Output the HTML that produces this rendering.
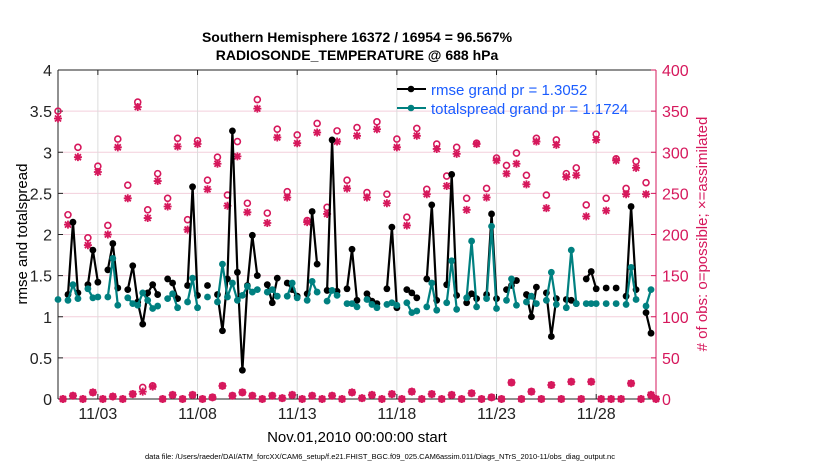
<!DOCTYPE html>
<html><head><meta charset="utf-8">
<style>
body{margin:0;background:#fff;}
svg{display:block;font-family:"Liberation Sans",Arial,sans-serif;}
</style></head>
<body>
<svg id="chart" width="830" height="470" viewBox="0 0 830 470" xmlns="http://www.w3.org/2000/svg">
<g id="grid"></g>
<g id="axes"></g>
<g id="obs"></g>
<g id="lines"></g>
<text x="357" y="42" text-anchor="middle" font-size="14" font-weight="bold">Southern Hemisphere 16372 / 16954 = 96.567%</text>
<text x="357" y="60" text-anchor="middle" font-size="14" font-weight="bold">RADIOSONDE_TEMPERATURE @ 688 hPa</text>
<text transform="translate(27,234) rotate(-90)" text-anchor="middle" font-size="15">rmse and totalspread</text>
<text transform="translate(707,234) rotate(-90)" text-anchor="middle" font-size="15" fill="#d6185c"># of obs: o=possible; ×=assimilated</text>
<text x="357" y="442" text-anchor="middle" font-size="15">Nov.01,2010 00:00:00 start</text>
<text x="380" y="459" text-anchor="middle" font-size="7.5">data file: /Users/raeder/DAI/ATM_forcXX/CAM6_setup/f.e21.FHIST_BGC.f09_025.CAM6assim.011/Diags_NTrS_2010-11/obs_diag_output.nc</text>
<g>
<line x1="397" y1="89" x2="426" y2="89" stroke="#000" stroke-width="2"/>
<circle cx="411" cy="89" r="3.3" fill="#000"/>
<text x="431" y="95" font-size="15" fill="#1a5cff">rmse grand pr = 1.3052</text>
<line x1="397" y1="108" x2="426" y2="108" stroke="#008080" stroke-width="2"/>
<circle cx="411" cy="108" r="3.3" fill="#008080"/>
<text x="431" y="114" font-size="15" fill="#1a5cff">totalspread grand pr = 1.1724</text>
</g>
</svg>
<script>
const N=null;
const rmse=[N,N,1.27,2.15,1.29,N,1.39,1.81,1.42,N,1.57,1.89,1.35,N,1.33,1.62,1.18,0.91,1.29,1.39,1.27,N,1.46,1.41,1.22,N,1.38,2.58,1.26,N,1.38,N,1.27,0.83,1.46,3.26,1.54,0.35,1.38,1.99,1.5,N,1.39,1.17,1.47,N,1.41,1.33,1.25,N,1.28,2.28,1.64,N,1.32,3.15,1.31,N,1.34,1.82,1.2,N,1.28,1.19,1.16,N,1.34,2.09,1.11,N,1.33,1.29,1.23,N,1.46,2.36,1.2,N,1.39,2.73,1.26,N,1.17,1.28,1.22,N,1.27,2.25,1.22,N,1.33,1.38,1.44,N,1.27,1.0,1.36,N,1.29,0.76,1.22,N,1.21,1.2,1.16,N,1.46,1.55,1.34,N,1.35,N,1.35,N,1.25,2.34,1.33,N,1.05,0.8,N];
const spread=[1.21,N,1.2,1.39,1.22,N,1.34,1.23,1.24,N,1.24,1.71,1.14,N,1.23,1.16,1.14,1.29,1.2,1.1,1.13,N,1.22,1.28,1.11,N,1.18,1.47,1.11,N,1.24,N,1.18,1.64,1.24,1.41,1.2,1.26,1.37,1.3,1.33,N,1.3,1.33,1.25,N,1.25,1.41,1.23,N,1.2,1.43,1.3,N,1.19,1.32,1.26,N,1.16,1.16,1.12,N,1.21,1.15,1.11,N,1.15,1.17,1.14,N,1.17,1.05,1.07,N,1.12,1.41,1.08,N,1.17,1.68,1.09,N,1.23,1.92,1.12,N,1.22,2.1,1.1,N,1.2,1.46,1.14,N,1.18,1.25,1.16,N,1.2,1.54,1.15,N,1.11,1.81,1.16,N,1.16,1.16,1.16,N,1.16,N,1.16,N,1.15,1.6,1.21,N,1.13,1.33,N];
const nPossible=[350,0,224,4,306,0,196,8,283,0,211,3,316,0,260,6,361,14,230,16,274,0,244,5,317,0,218,5,314,0,266,2,294,16,248,4,313,8,238,4,364,0,226,4,328,1,252,5,321,0,217,4,335,0,233,4,326,0,266,8,330,1,251,5,337,0,249,6,316,0,221,9,329,0,255,6,310,0,271,5,306,0,244,7,311,0,256,2,293,0,284,20,299,0,272,9,317,0,248,17,315,0,274,21,281,0,236,21,322,0,244,0,292,0,256,19,289,0,263,5,0];
const nAssim=[341,0,212,4,294,0,187,8,276,0,200,3,306,0,244,6,355,9,220,15,265,0,234,5,307,0,206,5,310,0,255,2,286,16,235,4,295,8,227,4,353,0,214,4,318,1,245,5,311,0,215,4,324,0,225,4,313,0,256,8,320,1,245,5,328,0,238,6,306,0,211,9,320,0,249,6,304,0,259,5,298,0,230,7,310,0,245,2,290,0,274,20,286,0,261,9,313,0,232,17,309,0,270,21,272,0,222,21,315,0,229,0,290,0,249,19,281,0,249,5,0];
const xTicks=[2,7,12,17,22,27];
const xTickLabels=["11/03","11/08","11/13","11/18","11/23","11/28"];
const yTicks=[0,0.5,1,1.5,2,2.5,3,3.5,4];
const y2Ticks=[0,50,100,150,200,250,300,350,400];

const X0=58,X1=656,Y0=399,Y1=70;
const sx=d=>X0+(d/30)*(X1-X0);          // d in days from Nov 1
const sy=v=>Y0-(v/4)*(Y0-Y1);
const sy2=v=>Y0-(v/400)*(Y0-Y1);
const tOf=i=>i*0.25;
const NS="http://www.w3.org/2000/svg";
function mk(tag,attrs,parent){const e=document.createElementNS(NS,tag);for(const k in attrs)e.setAttribute(k,attrs[k]);parent.appendChild(e);return e;}
const grid=document.getElementById('grid'),axes=document.getElementById('axes'),obs=document.getElementById('obs'),lines=document.getElementById('lines');
const MAG="#d6185c";
// grid
y2Ticks.forEach(v=>{if(v>0&&v<400){const l=mk('line',{x1:X0,x2:X1,y1:sy2(v),y2:sy2(v),stroke:"#f3cfdc","stroke-width":1},grid);

}});
xTicks.forEach(d=>{const l=mk('line',{x1:sx(d),x2:sx(d),y1:Y1,y2:Y0,stroke:"#dcdcdc","stroke-width":1},grid);

});
// axes
mk('line',{x1:X0,x2:X1,y1:Y1,y2:Y1,stroke:"#222","stroke-width":1},axes);
mk('line',{x1:X0,x2:X1,y1:Y0,y2:Y0,stroke:"#222","stroke-width":1},axes);
mk('line',{x1:X0,x2:X0,y1:Y1,y2:Y0,stroke:"#222","stroke-width":1},axes);
mk('line',{x1:X1,x2:X1,y1:Y1,y2:Y0,stroke:MAG,"stroke-width":1},axes);
yTicks.forEach(v=>{mk('line',{x1:X0,x2:X0+5,y1:sy(v),y2:sy(v),stroke:"#222"},axes);
const t=mk('text',{x:X0-6,y:sy(v)+6,"text-anchor":"end","font-size":16,fill:"#222"},axes);t.textContent=v;

});
y2Ticks.forEach(v=>{mk('line',{x1:X1-5,x2:X1,y1:sy2(v),y2:sy2(v),stroke:MAG},axes);
const t=mk('text',{x:X1+6,y:sy2(v)+6,"font-size":16,fill:MAG},axes);t.textContent=v;

});
xTicks.forEach((d,i)=>{mk('line',{x1:sx(d),x2:sx(d),y1:Y0,y2:Y0-5,stroke:"#222"},axes);mk('line',{x1:sx(d),x2:sx(d),y1:Y1,y2:Y1+5,stroke:"#222"},axes);
const t=mk('text',{x:sx(d),y:Y0+20,"text-anchor":"middle","font-size":16,fill:"#222"},axes);t.textContent=xTickLabels[i];

});
// obs counts
nPossible.forEach((v,i)=>{if(v==null)return;const c=mk('circle',{cx:sx(tOf(i)),cy:sy2(v),r:3,fill:"none",stroke:MAG,"stroke-width":1.6},obs);

});
nAssim.forEach((v,i)=>{if(v==null)return;const x=sx(tOf(i)),y=sy2(v),r=4;
const p=mk('path',{d:`M${x-r},${y}H${x+r}M${x},${y-r}V${y+r}M${x-r*0.75},${y-r*0.75}L${x+r*0.75},${y+r*0.75}M${x-r*0.75},${y+r*0.75}L${x+r*0.75},${y-r*0.75}`,stroke:MAG,"stroke-width":1.8,fill:"none"},obs);

});
// series lines
function series(arr,col,name){let d="";let prev=false;
arr.forEach((v,i)=>{if(v==null){prev=false;return;}d+=(prev?"L":"M")+sx(tOf(i)).toFixed(1)+","+sy(v).toFixed(1);prev=true;});
const p=mk('path',{d:d,stroke:col,"stroke-width":2.2,fill:"none","stroke-linejoin":"round"},lines);


arr.forEach((v,i)=>{if(v==null)return;const c=mk('circle',{cx:sx(tOf(i)),cy:sy(v),r:3.4,fill:col},lines);

});}
series(rmse,"#000","rmse");
series(spread,"#008080","totalspread");
</script>
</body></html>
